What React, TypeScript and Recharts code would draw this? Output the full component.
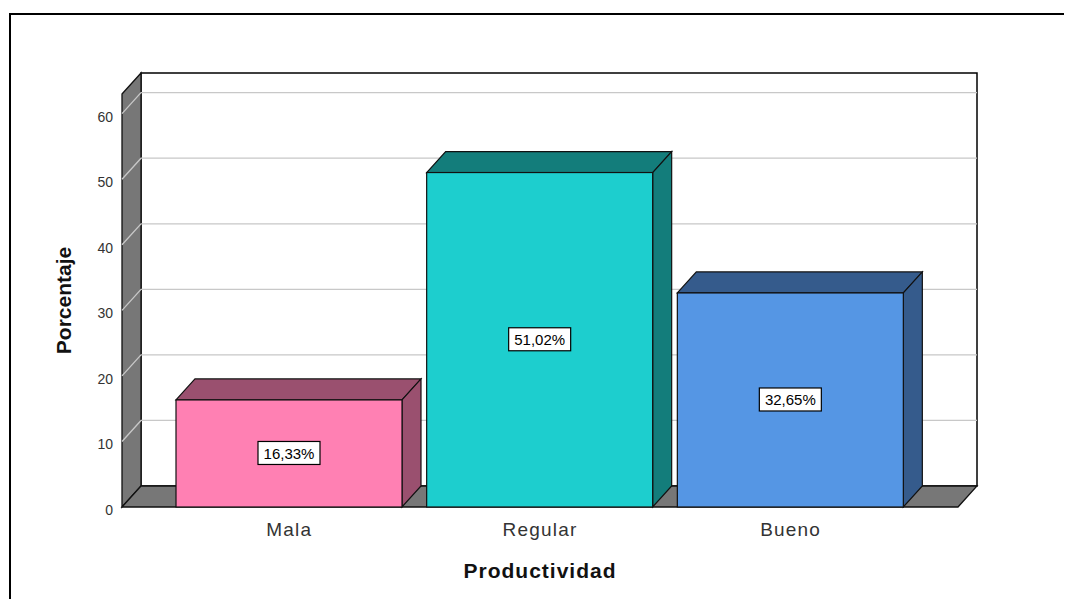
import React from 'react';
import { BarChart, Bar, XAxis, YAxis, CartesianGrid, ReferenceArea, Label } from 'recharts';

// chart values
const categories = ['Mala', 'Regular', 'Bueno'];
const percentages = [16.33, 51.02, 32.65];
const yTicks = [0, 10, 20, 30, 40, 50, 60];

// face colours (front / top+side) per category
const frontColors = ['#FF80B3', '#1DCECE', '#5596E4'];
const shadeColors = ['#9A506F', '#137D7B', '#355B8C'];

const data = categories.map((name, i) => ({ name, value: percentages[i] }));

const W = 1064;
const H = 591;
const DX = 19; // 3d depth offset
const DY = 21;
const PAD = 42; // x axis padding on both sides
const FONT = '"Liberation Sans", Arial, Helvetica, sans-serif';
const margin = { top: 86, right: 114, bottom: 32, left: 54 };
const Y_AXIS_W = 60;
const X_AXIS_H = 60;
const plotTop = margin.top;
const plotBottom = H - margin.bottom - X_AXIS_H;

const fmt = (v: number) => v.toFixed(2).replace('.', ',') + '%';

// back wall, left wall and floor of the 3d box
const Walls = (props: any) => {
  const x = props.x - PAD;
  const width = props.width + 2 * PAD;
  const { y, height } = props;
  const b = y + height;
  return (
    <g>
      <rect x={x + DX} y={y - DY} width={width} height={height} fill="#fff" stroke="#000" strokeWidth={1.5} />
      <polygon
        points={`${x},${y} ${x + DX},${y - DY} ${x + DX},${b - DY} ${x},${b}`}
        fill="#777"
        stroke="#111"
        strokeWidth={1.3}
      />
      <polygon
        points={`${x},${b} ${x + DX},${b - DY} ${x + width + DX},${b - DY} ${x + width},${b}`}
        fill="#777"
        stroke="#111"
        strokeWidth={1.3}
      />
    </g>
  );
};

// grid line that runs across the left wall and then along the back wall
const gridLine = (props: any) => {
  const { x1, x2, y1 } = props;
  if (Math.abs(y1 - plotBottom) < 1 || Math.abs(y1 - plotTop) < 1) return <g key={`gl-${y1}`} />;
  return (
    <polyline
      key={`gl-${y1}`}
      points={`${x1},${y1} ${x1 + DX},${y1 - DY} ${x2 + DX},${y1 - DY}`}
      fill="none"
      stroke="#c8c8c8"
      strokeWidth={1.3}
    />
  );
};

const Bar3D = (props: any) => {
  const { x, y, width, height, payload } = props;
  const i = categories.indexOf(payload?.name);
  const front = frontColors[i];
  const shade = shadeColors[i];
  const r = x + width;
  const b = y + height;
  const cx = x + width / 2;
  const cy = y + height / 2;
  return (
    <g>
      <polygon
        points={`${x},${y} ${x + DX},${y - DY} ${r + DX},${y - DY} ${r},${y}`}
        fill={shade}
        stroke="#111"
        strokeWidth={1.2}
      />
      <polygon
        points={`${r},${y} ${r + DX},${y - DY} ${r + DX},${b - DY} ${r},${b}`}
        fill={shade}
        stroke="#111"
        strokeWidth={1.2}
      />
      <rect x={x} y={y} width={width} height={height} fill={front} stroke="#111" strokeWidth={1.2} />
      <rect x={cx - 31} y={cy - 12} width={62} height={23} fill="#fff" stroke="#000" strokeWidth={1.2} />
      <text x={cx} y={cy} textAnchor="middle" dominantBaseline="central" fontSize={15} fontFamily={FONT} fill="#000">
        {fmt(payload.value)}
      </text>
    </g>
  );
};

const YTick = (props: any) => {
  const { x, y, payload } = props;
  return (
    <text x={x} y={y + 3} textAnchor="end" dominantBaseline="central" fontSize={14} fontFamily={FONT} fill="#333">
      {payload.value}
    </text>
  );
};

export default function App() {
  return (
    <div style={{ position: 'relative', width: W, height: H, overflow: 'hidden', background: '#fff' }}>
      <div
        style={{
          position: 'absolute',
          left: 1,
          top: 5,
          width: 1200,
          height: 800,
          borderTop: '2px solid #000',
          borderLeft: '2px solid #000',
        }}
      />
      <BarChart
        width={W}
        height={H}
        data={data}
        margin={margin}
        style={{ position: 'absolute', left: 0, top: 0 }}
      >
        <ReferenceArea y1={0} y2={63} ifOverflow="visible" shape={Walls} zIndex={-200} />
        <CartesianGrid vertical={false} horizontal={gridLine} />
        <XAxis
          dataKey="name"
          height={X_AXIS_H}
          padding={{ left: PAD, right: PAD }}
          axisLine={false}
          tickLine={false}
          tickMargin={10}
          tick={{ fontSize: 19, fill: '#333', fontFamily: FONT, letterSpacing: 1.2 }}
        >
          <Label
            content={(p: any) => {
              const vb = p.viewBox;
              return (
                <text
                  x={vb.x + vb.width / 2}
                  y={vb.y + 71}
                  textAnchor="middle"
                  fontSize={21}
                  fontWeight="bold"
                  letterSpacing={1}
                  fontFamily={FONT}
                  fill="#111"
                >
                  Productividad
                </text>
              );
            }}
          />
        </XAxis>
        <YAxis
          width={Y_AXIS_W}
          domain={[0, 63]}
          ticks={yTicks}
          axisLine={false}
          tickLine={false}
          tickSize={6}
          tickMargin={3}
          tick={YTick}
        >
          <Label
            content={(p: any) => {
              const vb = p.viewBox;
              const cx = vb.x + 1;
              const cy = vb.y + vb.height / 2;
              return (
                <text
                  x={cx}
                  y={cy}
                  transform={`rotate(-90 ${cx} ${cy})`}
                  textAnchor="middle"
                  dominantBaseline="central"
                  fontSize={21}
                  fontWeight="bold"
                  fontFamily={FONT}
                  fill="#111"
                >
                  Porcentaje
                </text>
              );
            }}
          />
        </YAxis>
        <Bar dataKey="value" barSize={226} shape={Bar3D} isAnimationActive={false} />
      </BarChart>
    </div>
  );
}
